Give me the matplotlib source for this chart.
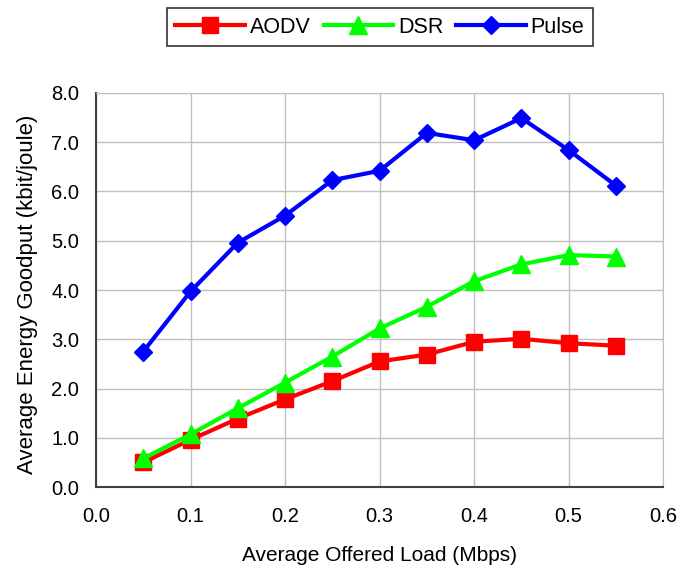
import matplotlib
matplotlib.use('Agg')
import matplotlib.pyplot as plt
from matplotlib.ticker import FormatStrFormatter

plt.rcParams['font.family'] = ['Liberation Sans', 'DejaVu Sans']

# offered load (Mbps)
load = [0.05, 0.10, 0.15, 0.20, 0.25, 0.30, 0.35, 0.40, 0.45, 0.50, 0.55]

# energy goodput (kbit/joule)
aodv = [0.50, 0.96, 1.39, 1.78, 2.15, 2.55, 2.69, 2.95, 3.01, 2.92, 2.87]
dsr = [0.58, 1.07, 1.60, 2.12, 2.65, 3.22, 3.66, 4.18, 4.52, 4.71, 4.68]
pulse = [2.75, 3.97, 4.96, 5.51, 6.23, 6.42, 7.19, 7.04, 7.49, 6.84, 6.12]

fig = plt.figure(figsize=(6.93, 5.69), dpi=100)
ax = fig.add_axes([0.1385, 0.144, 0.8185, 0.6926])

ax.plot(load, aodv, color='#ff0000', marker='s', markersize=11, linewidth=3, label='AODV')
ax.plot(load, dsr, color='#00ff00', marker='^', markersize=12.5, linewidth=3, label='DSR')
ax.plot(load, pulse, color='#0000ff', marker='D', markersize=9.5, linewidth=3, label='Pulse')

ax.set_xlim(0, 0.6)
ax.set_ylim(0, 8)
ax.set_xticks([0.0, 0.1, 0.2, 0.3, 0.4, 0.5, 0.6])
ax.set_yticks(range(9))
ax.xaxis.set_major_formatter(FormatStrFormatter('%.1f'))
ax.yaxis.set_major_formatter(FormatStrFormatter('%.1f'))
ax.grid(True, color='#c0c0c0', linewidth=1)
ax.set_axisbelow(True)
ax.tick_params(labelsize=14.5, length=0)
ax.tick_params(axis='y', pad=12)
ax.tick_params(axis='x', pad=14)

for side in ['top', 'right']:
    ax.spines[side].set_color('#c0c0c0')
for side in ['left', 'bottom']:
    ax.spines[side].set_color('#404040')
    ax.spines[side].set_linewidth(1.5)

ax.set_xlabel('Average Offered Load (Mbps)', fontsize=15, labelpad=15)
ax.set_ylabel('Average Energy Goodput (kbit/joule)', fontsize=16, labelpad=9)
ax.yaxis.set_label_coords(-0.103, 0.49)

leg = fig.legend(loc='upper center', bbox_to_anchor=(0.548, 0.986), ncol=3,
                 fontsize=15.5, frameon=True, fancybox=False, edgecolor='black',
                 handlelength=3.25, columnspacing=0.6, handletextpad=0.2,
                 borderpad=0.4, borderaxespad=0)
leg.get_frame().set_linewidth(1.2)

fig.savefig('out.png', dpi=100)
